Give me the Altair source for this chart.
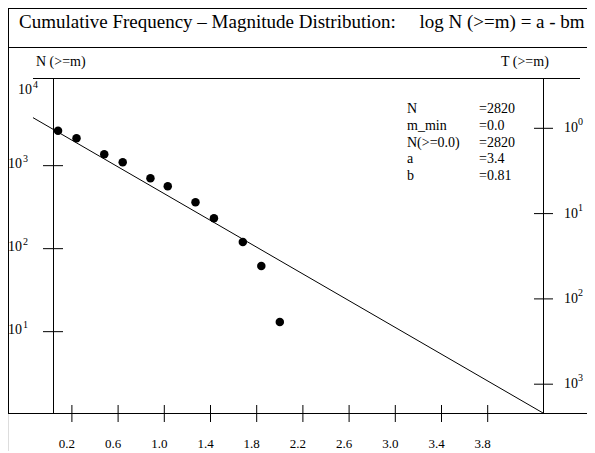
import altair as alt
import pandas as pd

# ---------------- data ----------------
title_text = ("Cumulative Frequency \u2013 Magnitude Distribution:"
              "\u00a0\u00a0\u00a0\u00a0\u00a0log N (>=m) = a - bm")
left_title = "N (>=m)"
right_title = "T (>=m)"

mag = [0.08, 0.24, 0.48, 0.64, 0.88, 1.03, 1.27, 1.43, 1.68, 1.84, 2.00]
cum_n = [2640, 2140, 1370, 1100, 704, 564, 362, 232, 120, 62, 13.1]

fit_m = [-0.137, 4.279]
fit_n = [3790, 1.047]

x_ticks = [0.2, 0.6, 1.0, 1.4, 1.8, 2.2, 2.6, 3.0, 3.4, 3.8]
x_tick_labels = ["0.2", "0.6", "1.0", "1.4", "1.8", "2.2", "2.6", "3.0", "3.4", "3.8"]

n_ticks = [10, 100, 1000]
n_exps = ["1", "2", "3"]
n_top = [10000]
n_top_exp = ["4"]

t_ticks = [1, 10, 100, 1000]
t_exps = ["0", "1", "2", "3"]

stat_names = ["N", "m_min", "N(>=0.0)", "a", "b"]
stat_values = ["=2820", "=0.0", "=2820", "=3.4", "=0.81"]

# ---------------- styling / pixel mapping ----------------
FONT = "Liberation Serif"
W, H = 579, 443

# x: 115.5 px per magnitude unit, m = 0 at 40.8 px from the chart's left edge
PX_M, X0 = 115.5, 40.8
xs = alt.Scale(domain=[(0 - X0) / PX_M, (W - X0) / PX_M], nice=False, zero=False)
# left y: 83 px per decade, 10^2 at 240.67 px from the top
PX_N, Y2 = 83.0, 240.67
ns = alt.Scale(type="log", nice=False,
               domain=[10 ** (2 - (H - Y2) / PX_N), 10 ** (2 + Y2 / PX_N)])
# right y (reversed): 85.3 px per decade, 10^1.5 at 248.25 px from the top
PX_T, Y15 = 85.3, 248.25
ts = alt.Scale(type="log", nice=False, reverse=True,
               domain=[10 ** (1.5 - Y15 / PX_T), 10 ** (1.5 + (H - Y15) / PX_T)])

df_pts = pd.DataFrame({"m": mag, "n": cum_n})
df_fit = pd.DataFrame({"m": fit_m, "n": fit_n})
df_xt = pd.DataFrame({"v": x_ticks, "lab": x_tick_labels})
df_nt = pd.DataFrame({"v": n_ticks, "e": n_exps, "b": ["10"] * len(n_ticks)})
df_ntop = pd.DataFrame({"v": n_top, "e": n_top_exp, "b": ["10"]})
df_tt = pd.DataFrame({"v": t_ticks, "e": t_exps, "b": ["10"] * len(t_ticks)})
one = pd.DataFrame({"k": [0]})


def hline(y, x1, x2):
    return alt.Chart(one).mark_rule(color="black", strokeWidth=1).encode(
        x=alt.value(x1), x2=alt.value(x2), y=alt.value(y))


def vline(x, y1, y2):
    return alt.Chart(one).mark_rule(color="black", strokeWidth=1).encode(
        x=alt.value(x), y=alt.value(y1), y2=alt.value(y2))


frame = [
    hline(0.5, 0, W),        # outer top border
    vline(0.5, 0, 405),      # outer left border
    hline(39.5, 0, W),       # title separator
    hline(70.5, 25, 572),    # plot top
    hline(405.5, 0, W),      # bottom
    vline(45.5, 70, 405),    # left axis
    vline(535.5, 70, 405),   # right axis
]

title = alt.Chart(one).mark_text(
    font=FONT, fontSize=19, align="left", baseline="middle", color="black"
).encode(x=alt.value(11), y=alt.value(14), text=alt.value(title_text))

ltitle = alt.Chart(one).mark_text(
    font=FONT, fontSize=14, align="left", baseline="middle", color="black"
).encode(x=alt.value(28), y=alt.value(54), text=alt.value(left_title))

rtitle = alt.Chart(one).mark_text(
    font=FONT, fontSize=14, align="left", baseline="middle", color="black"
).encode(x=alt.value(493), y=alt.value(54), text=alt.value(right_title))

fit = alt.Chart(df_fit).mark_line(color="black", strokeWidth=1).encode(
    x=alt.X("m:Q", scale=xs, axis=None),
    y=alt.Y("n:Q", scale=ns, axis=None))

pts = alt.Chart(df_pts).mark_circle(size=72, color="black", opacity=1).encode(
    x=alt.X("m:Q", scale=xs, axis=None),
    y=alt.Y("n:Q", scale=ns, axis=None))

xt = alt.Chart(df_xt).mark_rule(color="black", strokeWidth=1).encode(
    x=alt.X("v:Q", scale=xs, axis=None), y=alt.value(397), y2=alt.value(414))

xl = alt.Chart(df_xt).mark_text(
    font=FONT, fontSize=13, baseline="middle", dx=-5, color="black"
).encode(x=alt.X("v:Q", scale=xs, axis=None), y=alt.value(436), text="lab:N")

nt = alt.Chart(df_nt).mark_rule(color="black", strokeWidth=1).encode(
    y=alt.Y("v:Q", scale=ns, axis=None), x=alt.value(35), x2=alt.value(55))

nl = alt.Chart(df_nt).mark_text(
    font=FONT, fontSize=14, align="left", baseline="middle", dy=-2, color="black"
).encode(y=alt.Y("v:Q", scale=ns, axis=None), x=alt.value(0), text="b:N")

ne = alt.Chart(df_nt).mark_text(
    font=FONT, fontSize=10, align="left", baseline="middle", dy=-7, color="black"
).encode(y=alt.Y("v:Q", scale=ns, axis=None), x=alt.value(15), text="e:N")

ntl = alt.Chart(df_ntop).mark_text(
    font=FONT, fontSize=14, align="left", baseline="middle", dy=7, color="black"
).encode(y=alt.Y("v:Q", scale=ns, axis=None), x=alt.value(10), text="b:N")

nte = alt.Chart(df_ntop).mark_text(
    font=FONT, fontSize=10, align="left", baseline="middle", dy=2, color="black"
).encode(y=alt.Y("v:Q", scale=ns, axis=None), x=alt.value(25), text="e:N")

tt = alt.Chart(df_tt).mark_rule(color="black", strokeWidth=1).encode(
    y=alt.Y("v:Q", scale=ts, axis=None), x=alt.value(526), x2=alt.value(545))

tl = alt.Chart(df_tt).mark_text(
    font=FONT, fontSize=14, align="left", baseline="middle", dy=0, color="black"
).encode(y=alt.Y("v:Q", scale=ts, axis=None), x=alt.value(556), text="b:N")

te = alt.Chart(df_tt).mark_text(
    font=FONT, fontSize=10, align="left", baseline="middle", dy=-6, color="black"
).encode(y=alt.Y("v:Q", scale=ts, axis=None), x=alt.value(570), text="e:N")

stats_l = alt.Chart(one).mark_text(
    font=FONT, fontSize=14, align="left", baseline="alphabetic", lineHeight=16.8, color="black"
).encode(x=alt.value(399), y=alt.value(105), text=alt.value(stat_names))

stats_r = alt.Chart(one).mark_text(
    font=FONT, fontSize=14, align="left", baseline="alphabetic", lineHeight=16.8, color="black"
).encode(x=alt.value(471), y=alt.value(105), text=alt.value(stat_values))

chart = alt.layer(
    *frame, title, ltitle, rtitle, fit, pts, xt, xl,
    nt, nl, ne, ntl, nte, tt, tl, te, stats_l, stats_r
).resolve_scale(y="independent").properties(
    width=W, height=H, padding=0, autosize=alt.AutoSizeParams(type="none")
).configure_view(stroke=None).configure(background="white")

chart.save("out.html", embed_options={"renderer": "svg", "actions": False})
